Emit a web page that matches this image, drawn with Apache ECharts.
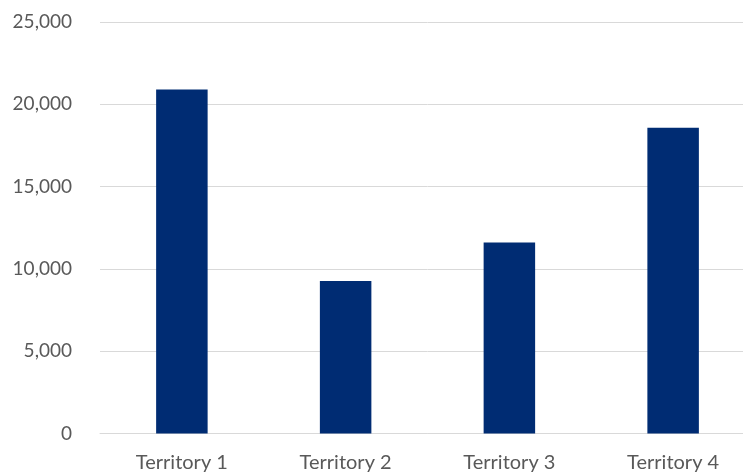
<!DOCTYPE html>
<html>
<head>
<meta charset="utf-8">
<script src="https://cdn.jsdelivr.net/npm/echarts@6/dist/echarts.min.js"></script>
<style>
  html, body { margin: 0; padding: 0; background: #ffffff; overflow: hidden; }
  /* plot runs slightly past the right edge, so the canvas is a bit wider than the window */
  #chart { width: 760px; height: 475px; }
</style>
</head>
<body>
<div id="chart"></div>
<script>
// Territory totals
const categories = ['Territory 1', 'Territory 2', 'Territory 3', 'Territory 4'];
const values = [20900, 9260, 11600, 18580];
const yTicks = { min: 0, max: 25000, interval: 5000 };

const chart = echarts.init(document.getElementById('chart'), null, { renderer: 'canvas' });
const labelColor = '#595959';
const labelFont = 'Lato';

chart.setOption({
  animation: false,
  grid: { left: 100, top: 22, width: 655, height: 411.5, containLabel: false },
  xAxis: {
    type: 'category',
    data: categories,
    axisLine: { show: true, lineStyle: { color: '#d9d9d9', width: 1 } },
    axisTick: { show: false },
    axisLabel: { margin: 19, color: labelColor, fontFamily: labelFont, fontSize: 20 }
  },
  yAxis: {
    type: 'value',
    min: yTicks.min,
    max: yTicks.max,
    interval: yTicks.interval,
    axisLine: { show: false },
    axisTick: { show: false },
    splitLine: { lineStyle: { color: '#d9d9d9', width: 1 } },
    axisLabel: {
      margin: 28,
      color: labelColor,
      fontFamily: labelFont,
      fontSize: 19,
      formatter: v => v.toLocaleString('en-US')
    }
  },
  series: [{
    type: 'bar',
    data: values,
    barWidth: 51.5,
    itemStyle: { color: '#002C73' }
  }]
});
</script>
</body>
</html>
